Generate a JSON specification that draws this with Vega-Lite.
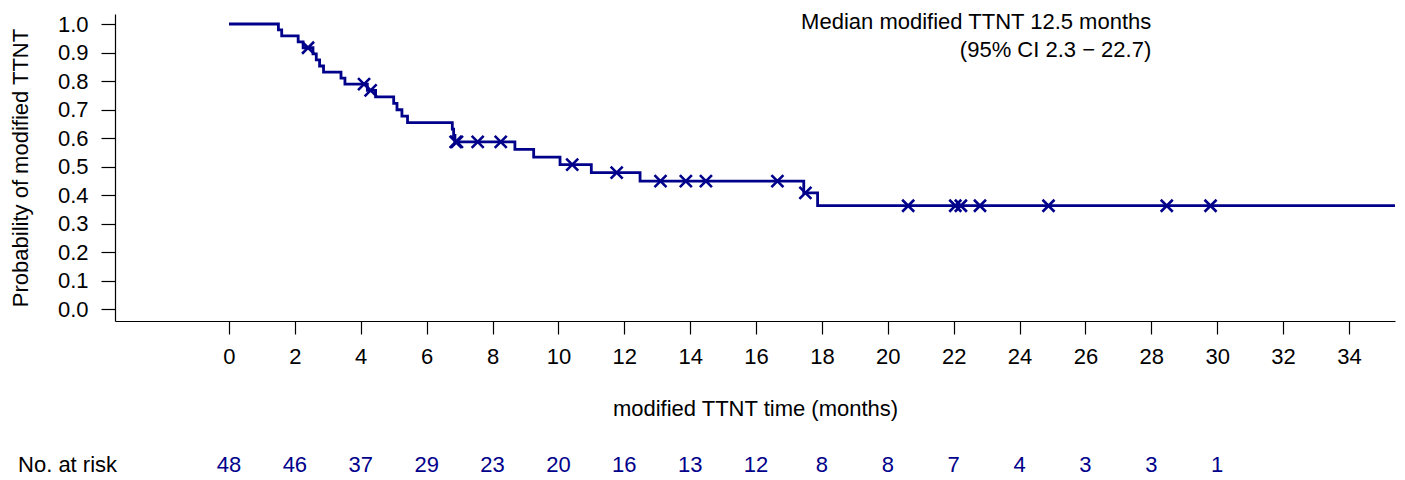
{
  "$schema": "https://vega.github.io/schema/vega-lite/v6.json",
  "width": 1280,
  "height": 307,
  "autosize": {"type": "none"},
  "padding": {"left": 115, "top": 14, "right": 10, "bottom": 159},
  "background": "white",
  "config": {
    "view": {"stroke": null},
    "font": "Liberation Sans",
    "axis": {
      "grid": false,
      "domainColor": "black",
      "domainWidth": 1.2,
      "tickColor": "black",
      "tickWidth": 1.2,
      "labelColor": "black",
      "titleColor": "black",
      "labelFont": "Liberation Sans",
      "titleFont": "Liberation Sans",
      "labelFontSize": 22,
      "titleFontSize": 22,
      "titleFontWeight": "normal",
      "labelFlush": false,
      "labelOverlap": false
    },
    "axisX": {
      "tickSize": 13,
      "labelPadding": 12,
      "titlePadding": 31
    },
    "axisY": {
      "values": [0, 0.1, 0.2, 0.3, 0.4, 0.5, 0.6, 0.7, 0.8, 0.9, 1.0],
      "format": ".1f",
      "tickSize": 14,
      "labelPadding": 13,
      "titlePadding": 25
    }
  },
  "datasets": {
    "km": [
      {"time": 0, "surv": 1},
      {"time": 1.5, "surv": 0.9792},
      {"time": 1.6, "surv": 0.9583},
      {"time": 2.1, "surv": 0.9375},
      {"time": 2.25, "surv": 0.9167},
      {"time": 2.55, "surv": 0.8953},
      {"time": 2.65, "surv": 0.874},
      {"time": 2.75, "surv": 0.8527},
      {"time": 2.87, "surv": 0.8314},
      {"time": 3.4, "surv": 0.8101},
      {"time": 3.52, "surv": 0.7888},
      {"time": 4.2, "surv": 0.7669},
      {"time": 4.45, "surv": 0.7443},
      {"time": 5.0, "surv": 0.7218},
      {"time": 5.1, "surv": 0.6992},
      {"time": 5.25, "surv": 0.6767},
      {"time": 5.42, "surv": 0.6541},
      {"time": 6.78, "surv": 0.6315},
      {"time": 6.82, "surv": 0.609},
      {"time": 6.86, "surv": 0.5864},
      {"time": 8.68, "surv": 0.5598},
      {"time": 9.25, "surv": 0.5331},
      {"time": 10.05, "surv": 0.5065},
      {"time": 11.0, "surv": 0.4784},
      {"time": 12.48, "surv": 0.4485},
      {"time": 17.45, "surv": 0.4077},
      {"time": 17.87, "surv": 0.3624},
      {"time": 35.4, "surv": 0.3624}
    ],
    "cens": [
      {"time": 2.4, "surv": 0.9167},
      {"time": 4.1, "surv": 0.7888},
      {"time": 4.3, "surv": 0.7669},
      {"time": 6.88, "surv": 0.5864},
      {"time": 6.92, "surv": 0.5864},
      {"time": 7.55, "surv": 0.5864},
      {"time": 8.25, "surv": 0.5864},
      {"time": 10.42, "surv": 0.5065},
      {"time": 11.77, "surv": 0.4784},
      {"time": 13.1, "surv": 0.4485},
      {"time": 13.87, "surv": 0.4485},
      {"time": 14.48, "surv": 0.4485},
      {"time": 16.65, "surv": 0.4485},
      {"time": 17.5, "surv": 0.4077},
      {"time": 20.62, "surv": 0.3624},
      {"time": 22.05, "surv": 0.3624},
      {"time": 22.22, "surv": 0.3624},
      {"time": 22.8, "surv": 0.3624},
      {"time": 24.88, "surv": 0.3624},
      {"time": 28.47, "surv": 0.3624},
      {"time": 29.8, "surv": 0.3624}
    ],
    "risk": [
      {"time": 0, "n": 48},
      {"time": 2, "n": 46},
      {"time": 4, "n": 37},
      {"time": 6, "n": 29},
      {"time": 8, "n": 23},
      {"time": 10, "n": 20},
      {"time": 12, "n": 16},
      {"time": 14, "n": 13},
      {"time": 16, "n": 12},
      {"time": 18, "n": 8},
      {"time": 20, "n": 8},
      {"time": 22, "n": 7},
      {"time": 24, "n": 4},
      {"time": 26, "n": 3},
      {"time": 28, "n": 3},
      {"time": 30, "n": 1}
    ]
  },
  "layer": [
    {
      "data": {"name": "km"},
      "mark": {"type": "line", "interpolate": "step-after", "color": "#00008B", "strokeWidth": 2.8, "clip": true},
      "encoding": {
        "x": {
          "field": "time",
          "type": "quantitative",
          "scale": {"domain": [-3.461, 35.4], "nice": false, "zero": false},
          "axis": {
            "title": "modified TTNT time (months)",
            "values": [0, 2, 4, 6, 8, 10, 12, 14, 16, 18, 20, 22, 24, 26, 28, 30, 32, 34],
            "format": "d"
          }
        },
        "y": {
          "field": "surv",
          "type": "quantitative",
          "scale": {"domain": [-0.0421, 1.0351], "nice": false, "zero": false},
          "axis": {"title": "Probability of modified TTNT"}
        }
      }
    },
    {
      "data": {"name": "cens"},
      "mark": {"type": "point", "shape": "M-1,-1L1,1M-1,1L1,-1", "size": 144, "filled": false, "strokeWidth": 2.6, "color": "#00008B", "opacity": 1},
      "encoding": {
        "x": {"field": "time", "type": "quantitative"},
        "y": {"field": "surv", "type": "quantitative"}
      }
    },
    {
      "data": {"name": "risk"},
      "mark": {"type": "text", "fontSize": 22, "color": "#00008B", "baseline": "middle", "align": "center"},
      "encoding": {
        "x": {"field": "time", "type": "quantitative"},
        "y": {"datum": -0.547},
        "text": {"field": "n", "type": "quantitative"}
      }
    },
    {
      "data": {"values": [{"label": "No. at risk"}]},
      "mark": {"type": "text", "fontSize": 22, "color": "black", "baseline": "middle", "align": "left"},
      "encoding": {
        "x": {"datum": -6.405},
        "y": {"datum": -0.547},
        "text": {"field": "label", "type": "nominal"}
      }
    },
    {
      "data": {"values": [{"l1": "Median modified TTNT 12.5 months"}]},
      "mark": {"type": "text", "fontSize": 22, "color": "black", "baseline": "middle", "align": "right", "lineHeight": 28, "text": ["Median modified TTNT 12.5 months", "(95% CI 2.3 − 22.7)"]},
      "encoding": {
        "x": {"datum": 28},
        "y": {"datum": 1.007}
      }
    }
  ]
}
